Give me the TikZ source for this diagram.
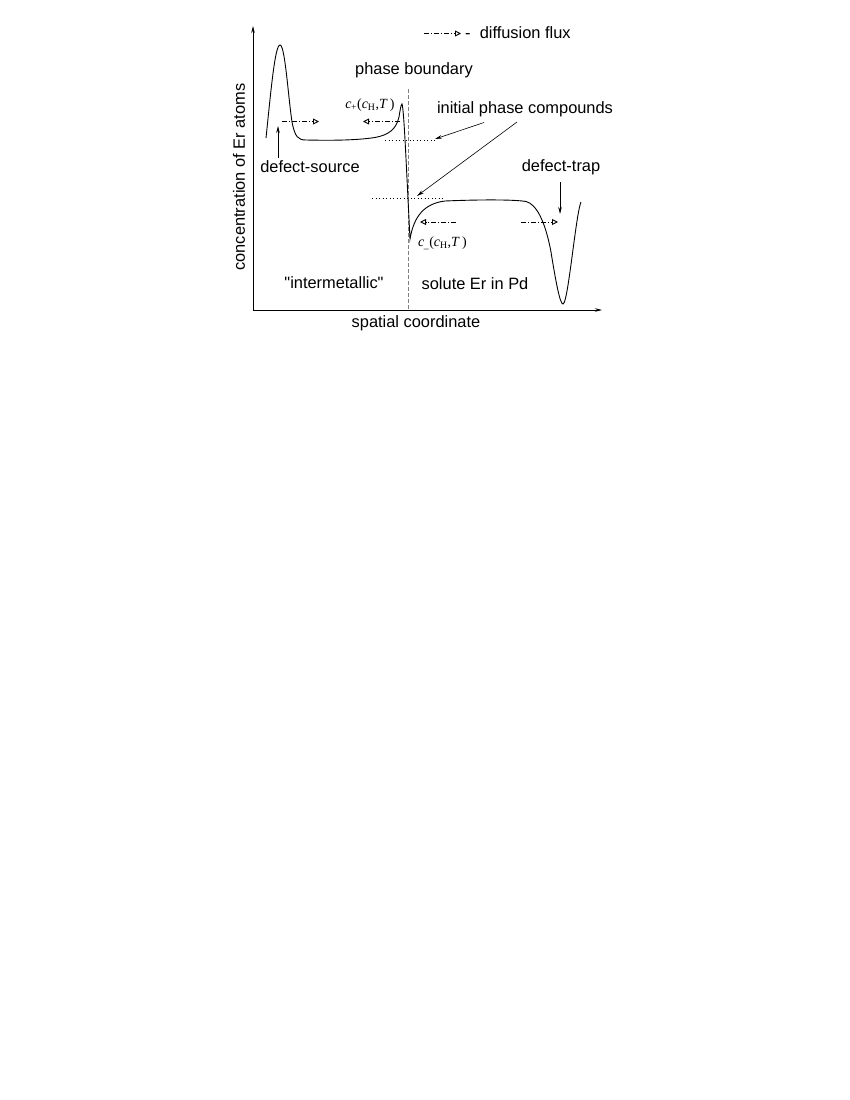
\documentclass[tikz,border=0pt]{standalone}
\usepackage{fontspec}
\setmainfont{Liberation Sans}
\newfontfamily\serifm{Liberation Serif}
\usetikzlibrary{arrows.meta}
\newcommand{\conclbl}[1]{\textit{c}\textsubscript{\kern-0.5pt#1}(\textit{c}\textsubscript{H},\textit{T}\,)}
\begin{document}
\begin{tikzpicture}[x=1pt,y=-1pt,
  lbl/.style={inner sep=0pt,font=\fontsize{16.4}{19}\selectfont},
  mlbl/.style={inner sep=0pt,font=\serifm\fontsize{14}{16}\selectfont},
  axis/.style={line width=0.7pt,-{Stealth[length=7pt,width=3.5pt]}},
  flux/.style={line width=0.6pt,dash pattern=on 5pt off 2pt on 1pt off 2pt,-{Triangle[open,length=6pt,width=6pt,line width=0.9pt]}},
  pointer/.style={line width=0.6pt,-{Stealth[length=7pt,width=3.5pt]}},
  curve/.style={line width=0.9pt},
  boundary/.style={gray,line width=1pt,dash pattern=on 4pt off 2pt},
  level/.style={line width=0.6pt,dash pattern=on 1pt off 2.5pt}]
\useasboundingbox (0,0) rectangle (850,1100);

% axes
\coordinate (O) at (253,310);
\coordinate (ytop) at (253,26);
\coordinate (xend) at (602,310);
\draw[axis] (O) -- (ytop);
\draw[axis] (O) -- (xend);

% phase boundary
\coordinate (pbtop) at (408,89);
\coordinate (pbbot) at (408,310);
\draw[boundary] (pbtop) -- (pbbot);

% equilibrium levels
\coordinate (lvA1) at (385,140);
\coordinate (lvA2) at (436,140);
\coordinate (lvB1) at (372,198.5);
\coordinate (lvB2) at (445,198.5);
\draw[level] (lvA1) -- (lvA2);
\draw[level] (lvB1) -- (lvB2);

% concentration profile
\draw[curve] (266,138) .. controls (271,90) and (275,45) .. (280,45)
  .. controls (285,45) and (288,95) .. (292,122)
  .. controls (295,137) and (298,140) .. (306,140)
  .. controls (330,140.5) and (355,140.5) .. (375,137.5)
  .. controls (388,135) and (396,130) .. (399,117)
  .. controls (400,111) and (401,104) .. (402,104)
  .. controls (404,110) and (406,160) .. (410,239)
  .. controls (413,222) and (420,204) .. (445,201)
  .. controls (480,199.5) and (515,199.5) .. (526,201.5)
  .. controls (536,204) and (545,220) .. (551,252)
  .. controls (556,283) and (560,304) .. (563,304)
  .. controls (566,304) and (570,272) .. (574,242)
  .. controls (577,220) and (579,207) .. (581,202);

% diffusion flux arrows
\coordinate (f1a) at (282,121.5); \coordinate (f1b) at (319,121.5);
\coordinate (f2a) at (400,121.5); \coordinate (f2b) at (363,121.5);
\coordinate (f3a) at (456,222);   \coordinate (f3b) at (420,222);
\coordinate (f4a) at (521,222);   \coordinate (f4b) at (558,222);
\draw[flux] (f1a) -- (f1b);
\draw[flux] (f2a) -- (f2b);
\draw[flux] (f3a) -- (f3b);
\draw[flux] (f4a) -- (f4b);

% legend
\coordinate (lga) at (424,33.5); \coordinate (lgb) at (461,33.5);
\draw[flux] (lga) -- (lgb);
\node[lbl,anchor=west] (legend) at (465,33) {-\ \ diffusion flux};

% labels
\node[lbl] (pb) at (414,70) {phase boundary};
\node[lbl] (ipc) at (525,109) {initial phase compounds};
\node[lbl] (src) at (310,166.5) {defect-source};
\node[lbl] (trap) at (561,167) {defect-trap};
\node[lbl] (inter) at (334,283) {\textquotedbl intermetallic\textquotedbl};
\node[lbl] (sol) at (475,283.5) {solute Er in Pd};
\node[lbl] (xl) at (416,323.5) {spatial coordinate};
\node[lbl,rotate=90] (yl) at (239,177) {concentration of Er atoms};
\node[mlbl] (cp) at (370,105) {\conclbl{+}};
\node[mlbl] (cm) at (442.5,243) {\conclbl{\_}};

% pointers
\coordinate (ps1) at (278,158); \coordinate (pt1) at (278,126);
\draw[pointer] (ps1) -- (pt1);
\coordinate (ps2) at (484,122.5); \coordinate (pt2) at (435,139);
\coordinate (ps3) at (517,122);   \coordinate (pt3) at (417,196);
\draw[pointer] (ps2) -- (pt2);
\draw[pointer] (ps3) -- (pt3);
\coordinate (ps4) at (560,182); \coordinate (pt4) at (560,214);
\draw[pointer] (ps4) -- (pt4);
\end{tikzpicture}
\end{document}
